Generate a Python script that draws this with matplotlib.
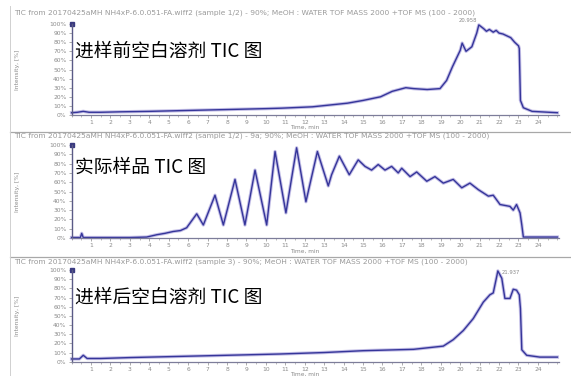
import matplotlib
matplotlib.use("Agg")
import matplotlib.pyplot as plt
from matplotlib.ticker import MultipleLocator, FuncFormatter

plt.rcParams['font.family'] = ['DejaVu Sans']

W, H = 571, 376

# ---- data -------------------------------------------------------------
t_before = [0.0, 0.3, 0.6, 0.9, 1.5, 2.5, 4.0, 6.0, 8.0, 10.0, 10.8, 12.4, 14.2,
            15.0, 15.9, 16.5, 17.2, 17.6, 18.3, 18.96, 19.3, 19.6, 20.0, 20.1,
            20.3, 20.6, 20.85, 20.958, 21.2, 21.35, 21.5, 21.7, 21.85, 22.0,
            22.2, 22.4, 22.6, 22.8, 23.0, 23.04, 23.1, 23.25, 23.7, 25.0]
i_before = [2.5, 3.0, 4.0, 3.0, 3.0, 3.5, 4.0, 5.0, 6.0, 7.0, 7.5, 9.0, 13.0,
            16.0, 20.0, 26.0, 30.0, 29.0, 28.0, 29.0, 38.0, 53.0, 71.0, 79.0,
            70.0, 75.0, 90.0, 99.0, 95.0, 92.0, 94.0, 91.0, 93.0, 90.0,
            89.0, 87.0, 85.0, 80.0, 76.0, 73.0, 16.0, 8.0, 4.0, 2.5]

t_sample = [0.0, 0.45, 0.52, 0.6, 1.0, 2.0, 3.0, 3.86, 4.38, 4.8, 5.23, 5.6,
            5.92, 6.44, 6.78, 7.38, 7.81, 8.41, 8.92, 9.44, 10.04, 10.47, 11.03,
            11.58, 12.06, 12.65, 13.21, 13.38, 13.78, 14.29, 14.75, 15.1, 15.44,
            15.78, 16.13, 16.47, 16.81, 16.99, 17.42, 17.76, 18.28, 18.7, 19.13,
            19.64, 20.08, 20.5, 20.93, 21.45, 21.7, 22.05, 22.56, 22.73, 22.9,
            23.08, 23.17, 23.25, 25.0]
i_sample = [0.5, 0.5, 5.0, 0.5, 0.5, 0.5, 0.5, 1.0, 3.5, 5.0, 7.0, 8.0,
            11.0, 26.0, 14.0, 46.0, 14.0, 63.0, 14.0, 73.0, 14.0, 93.0, 27.0,
            97.0, 39.0, 93.0, 56.0, 68.0, 88.0, 68.0, 84.0, 77.0, 73.0,
            79.0, 73.0, 77.0, 70.0, 75.0, 66.0, 71.0, 61.0, 66.0, 59.0,
            63.0, 54.0, 59.0, 52.0, 45.0, 46.0, 36.0, 34.0, 30.0, 36.0,
            27.0, 14.0, 1.0, 1.0]

t_after = [0.0, 0.4, 0.6, 0.8, 1.5, 3.0, 5.0, 7.0, 9.0, 10.73, 13.0, 15.0, 17.6,
           19.13, 19.64, 20.16, 20.67, 21.19, 21.53, 21.7, 21.88, 21.937, 22.14,
           22.3, 22.56, 22.73, 22.9, 23.04, 23.1, 23.17, 23.42, 24.1, 25.0]
i_after = [3.0, 3.0, 7.0, 3.5, 3.5, 4.5, 5.5, 6.5, 7.5, 8.4, 10.0, 12.0, 13.5,
           17.0, 24.0, 34.0, 47.0, 65.0, 73.0, 75.0, 93.0, 99.0, 91.0,
           69.0, 69.0, 79.0, 78.0, 73.0, 58.0, 13.0, 7.0, 5.0, 5.0]

titles = ["进样前空白溶剂 TIC 图", "实际样品 TIC 图", "进样后空白溶剂 TIC 图"]
headers = [
    "TIC from 20170425aMH NH4xP-6.0.051-FA.wiff2 (sample 1/2) - 90%; MeOH : WATER TOF MASS 2000 +TOF MS (100 - 2000)",
    "TIC from 20170425aMH NH4xP-6.0.051-FA.wiff2 (sample 1/2) - 9a; 90%; MeOH : WATER TOF MASS 2000 +TOF MS (100 - 2000)",
    "TIC from 20170425aMH NH4xP-6.0.051-FA.wiff2 (sample 3) - 90%; MeOH : WATER TOF MASS 2000 +TOF MS (100 - 2000)",
]
peak_labels = ["20.958", None, "21.937"]
x_ticks = list(range(1, 25))
y_ticks = list(range(0, 101, 10))

series = [(t_before, i_before), (t_sample, i_sample), (t_after, i_after)]

# pixel geometry of each panel: (y of 0%, y of 100%, header y, time label y, title level %)
panels = [(115, 24, 13, 127.5, 70), (238, 145, 136, 251, 76), (361.7, 270, 262, 374.5, 70.5)]
x0_px, x1_px = 71.6, 559.3
xmax = 25.1

fig = plt.figure(figsize=(W / 100, H / 100), dpi=100)
fig.patch.set_facecolor('white')


def fx(px):
    return px / W


def fy(py):
    return 1 - py / H


line_core = '#35359a'
line_halo = '#9b93d6'
grey = '#8a8a8a'
spine_c = '#5a5a86'

for k, ((tt, ii), (yb, yt, yh, ytl, ylev)) in enumerate(zip(series, panels)):
    ax = fig.add_axes([fx(x0_px), fy(yb), fx(x1_px - x0_px), (yb - yt) / H])
    ax.set_xlim(0, xmax)
    ax.set_ylim(0, 100)
    ax.plot(tt, ii, color=line_halo, lw=2.4, alpha=0.6, solid_joinstyle='round', clip_on=False)
    ax.plot(tt, ii, color=line_core, lw=1.0, solid_joinstyle='round', clip_on=False)
    for s in ('top', 'right'):
        ax.spines[s].set_visible(False)
    ax.spines['left'].set_color(spine_c)
    ax.spines['left'].set_linewidth(1.0)
    ax.spines['bottom'].set_color('#7d7d9a')
    ax.spines['bottom'].set_linewidth(0.9)
    ax.set_xticks(x_ticks)
    ax.xaxis.set_minor_locator(MultipleLocator(0.5))
    ax.set_yticks(y_ticks)
    ax.yaxis.set_major_formatter(FuncFormatter(lambda v, p: f"{int(v)}%"))
    ax.tick_params(axis='both', which='major', labelsize=4.3, colors=grey,
                   length=2.5, width=0.5, pad=1.2)
    ax.tick_params(axis='x', which='minor', length=1.5, width=0.4, colors=grey)
    ax.set_facecolor('none')
    # scale marker at the top of the intensity axis
    ax.plot([0], [100], marker='s', ms=3.2, color='#3a3a80', clip_on=False)

    ax.text(0.18, ylev, titles[k], fontsize=13.5, family=['Noto Sans CJK SC', 'DejaVu Sans'],
            color='black', va='center', ha='left')

    if peak_labels[k] is not None:
        tp = float(peak_labels[k])
        ip = ii[tt.index(tp)]
        if k == 0:
            ax.annotate(peak_labels[k], (tp, ip), xytext=(-1, 1.5), textcoords='offset points',
                        fontsize=3.8, color=grey, va='bottom', ha='right')
        else:
            ax.annotate(peak_labels[k], (tp, ip), xytext=(3, -1), textcoords='offset points',
                        fontsize=3.8, color=grey, va='center', ha='left')

    fig.text(fx(14), fy(yh), headers[k], fontsize=5.4, color='#9a9a9a',
             va='center', ha='left')
    fig.text(fx(305), fy(ytl), "Time, min", fontsize=4.2, color='#8a8a8a',
             va='center', ha='center')
    fig.text(fx(18), fy((yb + yt) / 2), "Intensity, [%]", fontsize=4.3, color='#8a8a8a',
             rotation=90, va='center', ha='center')

# panel separators and left border
for ys in (132, 257):
    fig.add_artist(plt.Line2D([fx(10), 1], [fy(ys), fy(ys)], color='#a8a8a8', lw=0.9))
fig.add_artist(plt.Line2D([fx(10), fx(10)], [fy(6), 0], color='#d0d0d0', lw=0.7))

fig.savefig("out.png", dpi=100, facecolor='white')
